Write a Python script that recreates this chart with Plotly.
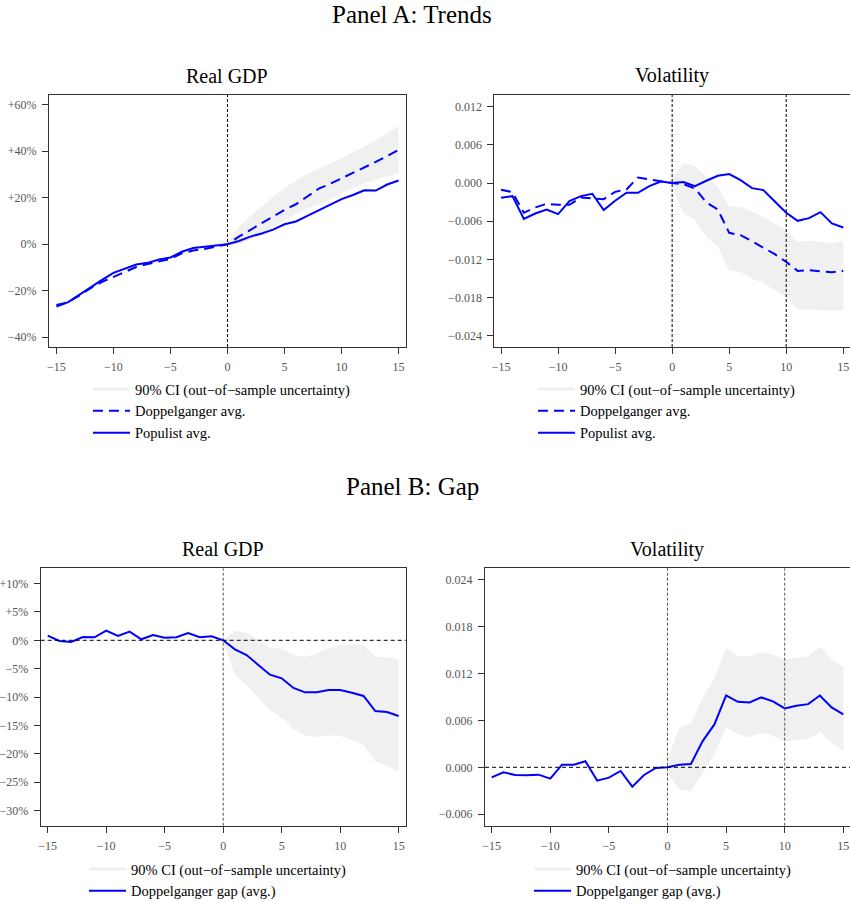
import plotly.graph_objects as go

# ---------------- data ----------------
x_all = list(range(-15, 16))
x_ci = list(range(0, 16))

x_tickvals = [-15, -10, -5, 0, 5, 10, 15]
x_ticktext = ['−15', '−10', '−5', '0', '5', '10', '15']

# Panel A - Real GDP (percent)
gdp_populist = [-26.1, -25.0, -21.8, -18.5, -15.3, -12.3, -10.6, -8.7, -8.0, -6.6, -5.7,
                -3.2, -1.6, -1.0, -0.4, 0.0, 1.4, 3.3, 4.6, 6.3, 8.6, 9.8, 12.2, 14.5,
                16.9, 19.4, 21.2, 23.2, 23.1, 25.7, 27.4]
gdp_doppel = [-26.8, -25.0, -22.1, -18.9, -16.2, -14.1, -11.8, -9.8, -8.5, -7.3, -6.3,
              -3.9, -2.7, -2.0, -1.0, 0.0, 3.3, 6.2, 9.0, 11.9, 14.8, 17.2, 20.5, 23.9,
              26.0, 28.3, 30.5, 33.0, 35.4, 38.0, 40.6]
gdp_ci_upper = [0.0, 7.6, 11.9, 16.2, 20.5, 24.1, 27.4, 30.3, 32.3, 34.6, 37.0, 39.4,
                42.0, 44.6, 47.8, 50.9]
gdp_ci_lower = [0.0, 0.1, 1.9, 4.7, 7.6, 10.5, 13.1, 15.5, 16.9, 19.1, 21.7, 24.1,
                26.2, 27.7, 29.4, 30.5]
gdp_ytickvals = [-40, -20, 0, 20, 40, 60]
gdp_yticktext = ['−40%', '−20%', '0%', '+20%', '+40%', '+60%']

# Panel A - Volatility
vol_populist = [-0.00231, -0.00205, -0.00562, -0.00478, -0.00415, -0.00488, -0.00284,
                -0.00205, -0.00168, -0.00425, -0.00278, -0.00152, -0.00152, -0.00047,
                0.00026, 0.0, 0.00016, -0.00047, 0.00037, 0.00116, 0.00142, 0.00047,
                -0.00079, -0.00110, -0.00289, -0.00467, -0.00593, -0.00551, -0.00457,
                -0.00635, -0.00698]
vol_doppel = [-0.00105, -0.00142, -0.00467, -0.00383, -0.00326, -0.00341, -0.00341,
              -0.00226, -0.00242, -0.00252, -0.00137, -0.00100, 0.00089, 0.00058,
              0.00037, 0.0, -0.00016, -0.00084, -0.00305, -0.00415, -0.00782, -0.00819,
              -0.00914, -0.01013, -0.01118, -0.01239, -0.01381, -0.01370, -0.01386,
              -0.01402, -0.01381]
vol_ci_upper = [0.00074, 0.00310, 0.00268, 0.00110, -0.00058, -0.00373, -0.00373,
                -0.00452, -0.00530, -0.00635, -0.00740, -0.00924, -0.00908, -0.00924,
                -0.00950, -0.00908]
vol_ci_lower = [-0.00058, -0.00478, -0.00583, -0.00845, -0.01003, -0.01370, -0.01397,
                -0.01502, -0.01570, -0.01685, -0.01790, -0.01990, -0.01985, -0.02000,
                -0.02011, -0.01985]
vol_ytickvals = [-0.024, -0.018, -0.012, -0.006, 0.0, 0.006, 0.012]
vol_yticktext = ['−0.024', '−0.018', '−0.012', '−0.006', '0.000', '0.006', '0.012']

# Panel B - Real GDP gap (percent)
gdp_gap = [0.82, -0.12, -0.29, 0.59, 0.53, 1.71, 0.76, 1.53, 0.18, 0.94, 0.47, 0.53,
           1.29, 0.53, 0.71, 0.0, -1.59, -2.59, -4.35, -6.06, -6.71, -8.41, -9.18,
           -9.18, -8.76, -8.76, -9.24, -9.82, -12.47, -12.65, -13.35]
gdp_gap_ci_upper = [0.0, 1.71, 1.35, 0.18, -1.29, -1.47, -2.59, -3.0, -2.29, -1.35,
                    -0.88, -0.71, -0.88, -2.88, -3.0, -3.35]
gdp_gap_ci_lower = [-0.24, -6.12, -7.88, -10.12, -12.29, -13.65, -15.71, -16.82, -17.0,
                    -16.82, -16.88, -17.59, -18.47, -21.41, -22.06, -23.24]
gap_ytickvals = [-30, -25, -20, -15, -10, -5, 0, 5, 10]
gap_yticktext = ['−30%', '−25%', '−20%', '−15%', '−10%', '−5%', '0%', '+5%', '+10%']

# Panel B - Volatility gap
vol_gap = [-0.00128, -0.00064, -0.00098, -0.00102, -0.00094, -0.00145, 0.00034, 0.00034,
           0.00077, -0.00170, -0.00132, -0.00047, -0.00247, -0.00098, -0.00009, 0.0,
           0.00034, 0.00043, 0.00336, 0.00549, 0.00919, 0.00838, 0.00830, 0.00894,
           0.00843, 0.00753, 0.00787, 0.00808, 0.00919, 0.00766, 0.00677]
vol_gap_ci_upper = [0.00094, 0.00511, 0.00553, 0.00894, 0.01136, 0.01523, 0.01421,
                    0.01421, 0.01472, 0.01443, 0.01383, 0.01404, 0.01421, 0.01540,
                    0.01379, 0.01277]
vol_gap_ci_lower = [-0.00077, -0.00281, -0.00302, -0.00077, 0.00170, 0.00511, 0.00426,
                    0.00383, 0.00443, 0.00404, 0.00328, 0.00349, 0.00362, 0.00455,
                    0.00315, 0.00213]
volgap_ytickvals = [-0.006, 0.0, 0.006, 0.012, 0.018, 0.024]
volgap_yticktext = ['−0.006', '0.000', '0.006', '0.012', '0.018', '0.024']

# ---------------- style ----------------
FONT = 'Liberation Serif, Times New Roman, serif'
BLUE = '#0000FF'
CI_FILL = 'rgb(240,240,240)'
W, H = 850, 902

fig = go.Figure()


def add_ci(xa, ya, upper, lower):
    fig.add_trace(go.Scatter(
        x=x_ci + x_ci[::-1], y=upper + lower[::-1], fill='toself',
        fillcolor=CI_FILL, line=dict(width=0), mode='lines',
        showlegend=False, hoverinfo='skip', xaxis=xa, yaxis=ya))


def add_legend_ci(leg, xa, ya):
    fig.add_trace(go.Scatter(
        x=[None], y=[None], mode='lines', line=dict(color=CI_FILL, width=3),
        name='90% CI (out−of−sample uncertainty)', legend=leg, xaxis=xa, yaxis=ya))


def add_line(xa, ya, y, name, dash, leg):
    fig.add_trace(go.Scatter(
        x=x_all, y=y, mode='lines', name=name, legend=leg,
        line=dict(color=BLUE, width=2, dash=dash), xaxis=xa, yaxis=ya))


# top-left
add_ci('x', 'y', gdp_ci_upper, gdp_ci_lower)
add_legend_ci('legend', 'x', 'y')
add_line('x', 'y', gdp_doppel, 'Doppelganger avg.', '10px,6px', 'legend')
add_line('x', 'y', gdp_populist, 'Populist avg.', 'solid', 'legend')
# top-right
add_ci('x2', 'y2', vol_ci_upper, vol_ci_lower)
add_legend_ci('legend2', 'x2', 'y2')
add_line('x2', 'y2', vol_doppel, 'Doppelganger avg.', '10px,6px', 'legend2')
add_line('x2', 'y2', vol_populist, 'Populist avg.', 'solid', 'legend2')
# bottom-left
add_ci('x3', 'y3', gdp_gap_ci_upper, gdp_gap_ci_lower)
add_legend_ci('legend3', 'x3', 'y3')
add_line('x3', 'y3', gdp_gap, 'Doppelganger gap (avg.)', 'solid', 'legend3')
# bottom-right
add_ci('x4', 'y4', vol_gap_ci_upper, vol_gap_ci_lower)
add_legend_ci('legend4', 'x4', 'y4')
add_line('x4', 'y4', vol_gap, 'Doppelganger gap (avg.)', 'solid', 'legend4')


def xaxis(domain, rng, anchor):
    return dict(domain=domain, range=rng, anchor=anchor, tickvals=x_tickvals,
                ticktext=x_ticktext, showgrid=False, zeroline=False, showline=True,
                mirror=True, linecolor='#333', linewidth=1, ticks='outside', ticklen=6,
                tickcolor='#333', ticklabelstandoff=3,
                tickfont=dict(family=FONT, size=12, color='#555'))


def yaxis(domain, rng, anchor, tv, tt):
    return dict(domain=domain, range=rng, anchor=anchor, tickvals=tv, ticktext=tt,
                showgrid=False, zeroline=False, showline=True, mirror=True,
                linecolor='#333', linewidth=1, ticks='outside', ticklen=6,
                tickcolor='#333', ticklabelstandoff=3,
                tickfont=dict(family=FONT, size=12, color='#555'))


top_y = [1 - 347 / H, 1 - 95 / H]
bot_y = [1 - 825.7 / H, 1 - 568.3 / H]


def legend_cfg(px, py):
    return dict(x=px / W, y=1 - py / H, xref='container', yref='container',
                xanchor='left', yanchor='top',
                bgcolor='rgba(0,0,0,0)', borderwidth=0, traceorder='normal',
                font=dict(family=FONT, size=14.5, color='black'), itemwidth=37,
                tracegroupgap=0)


shapes = []


def vline(xref, yref, xv, color):
    shapes.append(dict(type='line', xref=xref, yref=yref + ' domain', x0=xv, x1=xv,
                       y0=0, y1=1, line=dict(color=color, width=1, dash='3px,2px')))


def hline(xref, yref, yv):
    shapes.append(dict(type='line', xref=xref + ' domain', yref=yref, x0=0, x1=1,
                       y0=yv, y1=yv, line=dict(color='black', width=1, dash='4px,3px')))


vline('x', 'y', 0, 'black')
vline('x2', 'y2', 0, 'black')
vline('x2', 'y2', 10, 'black')
vline('x3', 'y3', 0, '#555')
hline('x3', 'y3', 0)
vline('x4', 'y4', 0, '#555')
vline('x4', 'y4', 10, '#555')
hline('x4', 'y4', 0)


def title(text, px, py, size):
    return dict(text=text, x=px / W, y=1 - py / H, xref='paper', yref='paper',
                xanchor='center', yanchor='middle', showarrow=False,
                font=dict(family=FONT, size=size, color='black'))


annotations = [
    title('Panel A: Trends', 412, 15, 25),
    title('Panel B: Gap', 412, 486, 25),
    title('Real GDP', 227, 76, 20),
    title('Volatility', 672, 76, 20),
    title('Real GDP', 223, 549, 20),
    title('Volatility', 667, 549, 20),
]

fig.update_layout(
    width=W, height=H, margin=dict(l=0, r=0, t=0, b=0, pad=0, autoexpand=False),
    paper_bgcolor='white', plot_bgcolor='white',
    font=dict(family=FONT, color='black'),
    xaxis=xaxis([49 / W, 406 / W], [-15.65, 15.65], 'y'),
    yaxis=yaxis(top_y, [-44.2, 64.2], 'x', gdp_ytickvals, gdp_yticktext),
    xaxis2=xaxis([494.3 / W, 1.0], [-15.59, 15.59], 'y2'),
    yaxis2=yaxis(top_y, [-0.02578, 0.01386], 'x2', vol_ytickvals, vol_yticktext),
    xaxis3=xaxis([40.7 / W, 405.7 / W], [-15.6, 15.6], 'y3'),
    yaxis3=yaxis(bot_y, [-32.7, 12.7], 'x3', gap_ytickvals, gap_yticktext),
    xaxis4=xaxis([485 / W, 1.0], [-15.57, 15.57], 'y4'),
    yaxis4=yaxis(bot_y, [-0.00747, 0.02546], 'x4', volgap_ytickvals, volgap_yticktext),
    legend=legend_cfg(88, 373),
    legend2=legend_cfg(533, 373),
    legend3=legend_cfg(84, 853),
    legend4=legend_cfg(529, 853),
    shapes=shapes,
    annotations=annotations,
    showlegend=True,
)

fig.write_html('out.html')
